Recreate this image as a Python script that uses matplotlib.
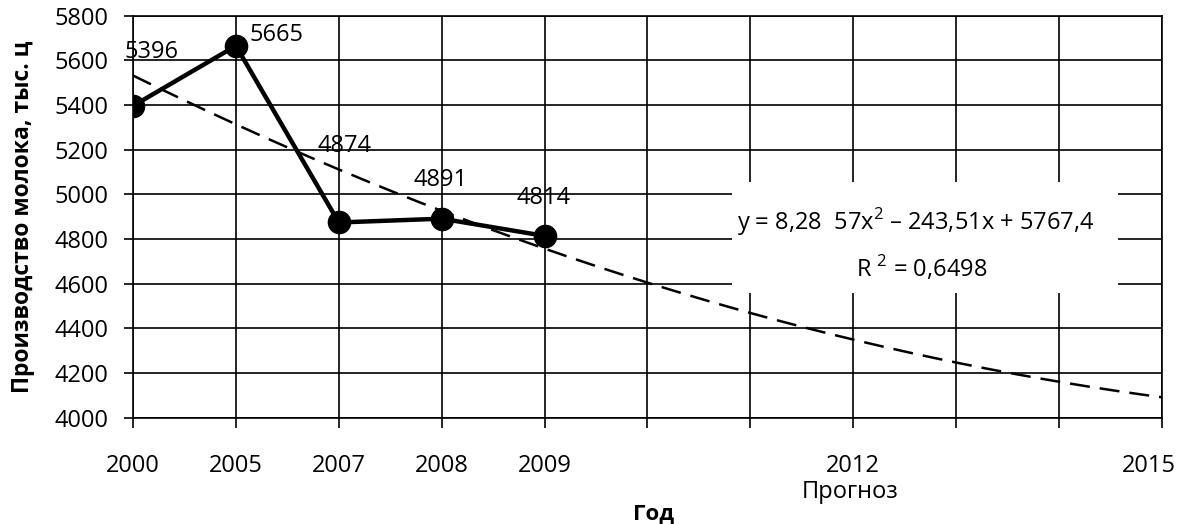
import numpy as np
import matplotlib.pyplot as plt
from matplotlib.patches import Rectangle
from matplotlib.transforms import ScaledTranslation

plt.rcParams['font.family'] = ['Open Sans', 'DejaVu Sans']
plt.rcParams['mathtext.fontset'] = 'custom'
plt.rcParams['mathtext.rm'] = 'Open Sans'

# подписи по оси X (пустые - промежуточные годы прогноза)
years = ['2000', '2005', '2007', '2008', '2009', '', '', '2012', '', '', '2015']
# фактическое производство молока, тыс. ц
milk = [5396, 5665, 4874, 4891, 4814]
# смещения подписей значений (пункты)
label_offsets = [(13, 39), (29, 8), (4, 55), (-1, 28), (-1, 27)]

x_all = np.arange(len(years))
x_fact = np.arange(len(milk))

# полиномиальный тренд 2-й степени (x = 1..n как в Excel)
coef = np.polyfit(x_fact + 1, milk, 2)
xs = np.linspace(0, len(years) - 1, 200)
trend = np.polyval(coef, xs + 1)

fig = plt.figure(figsize=(11.81, 5.24), dpi=100)
ax = fig.add_axes([0.1126, 0.2029, 0.8713, 0.7672])

ax.plot(xs, trend, color='black', lw=1.8, ls=(0, (8, 4)), zorder=3)
ax.plot(x_fact, milk, color='black', lw=3.2, marker='o', ms=16, zorder=4)

for xi, v, off in zip(x_fact, milk, label_offsets):
    ax.annotate(str(v), (xi, v), xytext=off, textcoords='offset points',
                ha='center', va='center', fontsize=17, zorder=5)

# белая подложка под уравнение тренда
ax.add_patch(Rectangle((0.582, 0.31), 0.375, 0.276, transform=ax.transAxes,
                       facecolor='white', edgecolor='none', zorder=1))
ax.text(0.761, 0.487, r'y = 8,28  57x$^{\mathregular{2}}$ – 243,51x + 5767,4', transform=ax.transAxes,
        ha='center', va='center', fontsize=17, zorder=2)
ax.text(0.766, 0.372, r'R $^{\mathregular{2}}$ = 0,6498', transform=ax.transAxes,
        ha='center', va='center', fontsize=17, zorder=2)

ax.set_xlim(0, len(years) - 1)
ax.set_ylim(4000, 5800)
ax.set_xticks(x_all)
ax.set_xticklabels(years)
ax.set_yticks(np.arange(4000, 5801, 200))
ax.tick_params(axis='x', length=7, width=1.2, pad=19, labelsize=17)
ax.tick_params(axis='y', length=6.5, width=1.2, pad=11, labelsize=17)
ax.grid(True, color='black', lw=1.2)
ax.set_axisbelow(True)
for s in ax.spines.values():
    s.set_linewidth(1.2)

# последняя подпись сдвинута влево, чтобы не выходить за край
last = ax.get_xticklabels()[-1]
last.set_transform(last.get_transform() + ScaledTranslation(-0.13, 0, fig.dpi_scale_trans))

ax.set_ylabel('Производство молока, тыс. ц', fontsize=16.5, fontweight='bold', labelpad=14)
fig.text(0.72, 1 - 492 / 524, 'Прогноз', ha='center', va='center', fontsize=17)
fig.text(0.553, 1 - 514 / 524, 'Год', ha='center', va='center', fontsize=16, fontweight='bold')

fig.savefig('out.png', dpi=100)
